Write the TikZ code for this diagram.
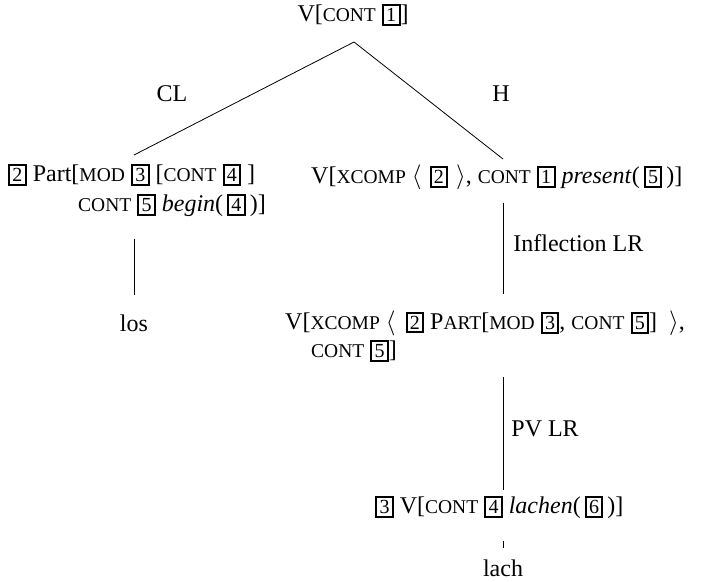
\documentclass[tikz,border=0pt]{standalone}
\usepackage{fontspec}
\setmainfont{Liberation Serif}
\usetikzlibrary{positioning}
\newcommand{\sca}[1]{{\fontsize{19.5}{20}\selectfont #1}}
\newcommand{\bx}[1]{{\setlength{\fboxsep}{2.3pt}\setlength{\fboxrule}{2pt}\fbox{\fontsize{20}{20}\selectfont #1}}}

\begin{document}
\begin{tikzpicture}[
    x=1pt, y=-1pt,
    lbl/.style={inner sep=0pt, font=\fontsize{24}{30}\selectfont},
    avm/.style={inner sep=0pt, align=left, font=\fontsize{24}{30}\selectfont},
    branch/.style={line width=0.8pt}
]
\useasboundingbox (0,0) rectangle (706,581);

\node[lbl] (top) at (353,15) {V[\sca{CONT} \bx{1}]};
\coordinate (apex) at (354,42);
\coordinate (clfoot) at (134,155);
\coordinate (hfoot) at (503,159);

\node[lbl] (cl) at (172,94) {CL};
\node[lbl] (h) at (501,94) {H};

\node[avm, anchor=west] (part) at (8,190) {\bx{2} Part[\sca{MOD} \bx{3} [\sca{CONT} \bx{4} ]\\
  \hspace*{70pt}\sca{CONT} \bx{5} \textit{begin}(\,\bx{4}\,)]};
\node[lbl, anchor=west] (hd) at (311,177) {V[\sca{XCOMP} $\langle$\hspace{8pt}\bx{2}\hspace{8pt}$\rangle$, \sca{CONT} \bx{1} \textit{present}(\,\bx{5}\,)]};

\node[lbl] (los) at (134,323) {los};
\node[avm, anchor=west, font=\fontsize{24}{28}\selectfont] (mid) at (285,336) {V[\sca{XCOMP} $\Big\langle$\hspace{10pt}\bx{2} P\sca{ART}[\sca{MOD} \bx{3}, \sca{CONT} \bx{5}]\hspace{12pt}$\Big\rangle$,\\
  \hspace*{26pt}\sca{CONT} \bx{5}]};

\node[lbl, anchor=west] (vb) at (375,507) {\bx{3} V[\sca{CONT} \bx{4} \textit{lachen}(\,\bx{6}\,)]};
\node[lbl] (lach) at (503,568) {lach};

% tree edges
\draw[branch] (apex) -- (clfoot);
\draw[branch] (apex) -- (hfoot);

% unary branches
\draw[branch, shorten <=22pt, shorten >=19pt] (part.south -| clfoot) -- (los.north -| clfoot);
\draw[branch, shorten <=13pt, shorten >=16pt] (hd.south -| hfoot) -- node[lbl, right=10pt, pos=0.44] (infl) {Inflection LR} (mid.north -| hfoot);
\draw[branch, shorten <=15pt, shorten >=5pt] (mid.south -| hfoot) -- node[lbl, right=8pt, pos=0.5] (pv) {PV LR} (vb.north -| hfoot);
\draw[branch, shorten <=22pt, shorten >=11pt] (vb.south -| hfoot) -- (lach.north -| hfoot);
\end{tikzpicture}
\end{document}
